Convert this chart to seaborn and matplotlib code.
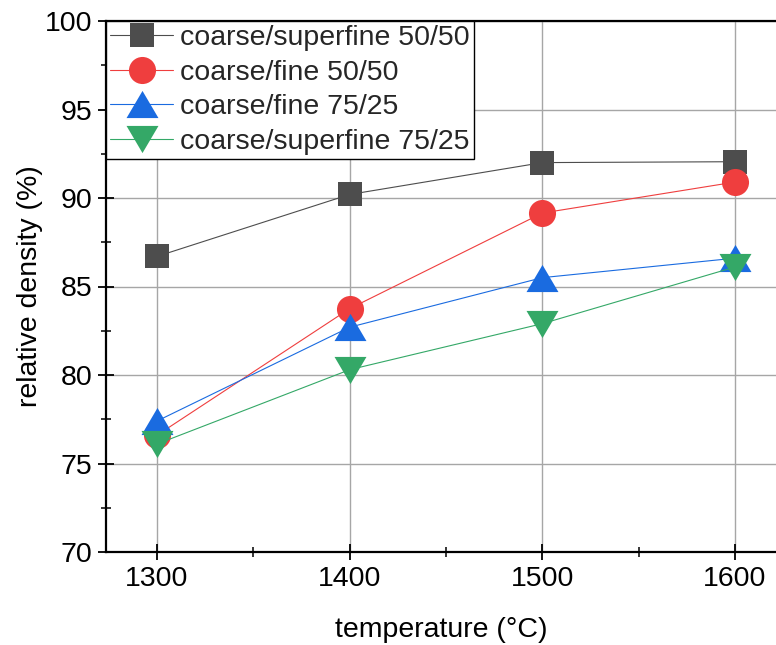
import matplotlib
matplotlib.use("Agg")
import matplotlib.pyplot as plt
import seaborn as sns
import pandas as pd
from matplotlib.path import Path
from matplotlib.ticker import MultipleLocator

temperature = [1300, 1400, 1500, 1600]
series_names = ["coarse/superfine 50/50", "coarse/fine 50/50",
                "coarse/fine 75/25", "coarse/superfine 75/25"]
cs_50_50 = [86.7, 90.2, 92.0, 92.05]
cf_50_50 = [76.6, 83.75, 89.15, 90.9]
cf_75_25 = [77.4, 82.7, 85.5, 86.6]
cs_75_25 = [76.1, 80.3, 82.9, 86.1]
values = [cs_50_50, cf_50_50, cf_75_25, cs_75_25]

colors = ["#4d4d4d", "#ef3e3e", "#1a6be0", "#34a867"]

tri_up = Path([(-1, -0.85), (1, -0.85), (0, 0.85), (-1, -0.85)],
              [Path.MOVETO, Path.LINETO, Path.LINETO, Path.CLOSEPOLY])
tri_down = Path([(-1, 0.85), (1, 0.85), (0, -0.85), (-1, 0.85)],
                [Path.MOVETO, Path.LINETO, Path.LINETO, Path.CLOSEPOLY])
markers = ["s", "o", tri_up, tri_down]
msizes = [17.5, 19.5, 23, 23]

sns.set_theme(style="white")
plt.rcParams["font.family"] = ["Liberation Sans", "DejaVu Sans"]

fig = plt.figure(figsize=(7.76, 6.45), dpi=100)
ax = fig.add_axes([106 / 776, 1 - 552 / 645, 1 - 106 / 776, (552 - 21) / 645])

for name, vals, c, m, ms in zip(series_names, values, colors, markers, msizes):
    d = pd.DataFrame({"temperature": temperature, "density": vals})
    sns.lineplot(data=d, x="temperature", y="density", color=c, marker=m,
                 markersize=ms, markeredgewidth=0, linewidth=0.8,
                 label=name, ax=ax, zorder=3)

ax.set_xlim(1273.5, 1621.3)
ax.set_ylim(70, 100)
ax.xaxis.set_major_locator(MultipleLocator(100))
ax.xaxis.set_minor_locator(MultipleLocator(50))
ax.yaxis.set_major_locator(MultipleLocator(5))
ax.yaxis.set_minor_locator(MultipleLocator(2.5))
ax.tick_params(which="major", direction="inout", length=12, width=1.3,
               labelsize=20.5, color="black", labelcolor="black", pad=4)
ax.tick_params(which="minor", direction="inout", length=7, width=1.1, color="black")
ax.tick_params(axis="both", which="both", bottom=True, left=True, top=False, right=False)

ax.grid(True, which="major", color="#a6a6a6", linewidth=1.0, zorder=0)
ax.set_axisbelow(True)

for s in ["left", "bottom", "top"]:
    ax.spines[s].set_color("black")
    ax.spines[s].set_linewidth(1.6)
ax.spines["right"].set_visible(False)

ax.set_xlabel("temperature (°C)", fontsize=20.5, color="black", labelpad=18)
ax.set_ylabel("relative density (%)", fontsize=20.5, color="black")
ax.yaxis.set_label_coords(-(106 - 43) / 670, 0.5)

leg = ax.legend(loc="upper left", bbox_to_anchor=(0.0, 1.0), fontsize=20.5,
                frameon=True, fancybox=False, framealpha=1, edgecolor="black",
                borderaxespad=0.0, handlelength=2.2, handletextpad=0.25,
                labelspacing=0.3, borderpad=0.15, markerscale=1.0)
leg.get_frame().set_linewidth(1.0)
leg.set_zorder(5)

fig.savefig("out.png", dpi=100)
